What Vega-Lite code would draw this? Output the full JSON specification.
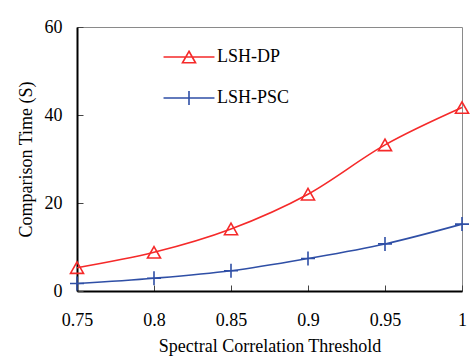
{
  "$schema": "https://vega.github.io/schema/vega-lite/v6.json",
  "width": 385,
  "height": 264,
  "autosize": {"type": "none"},
  "padding": {"left": 77, "top": 27, "right": 12, "bottom": 68},
  "background": "white",
  "config": {
    "font": "Liberation Serif",
    "view": {"stroke": "#8a8a8a", "strokeWidth": 1},
    "axis": {
      "grid": false,
      "domainColor": "black",
      "domainWidth": 2,
      "tickColor": "#444",
      "tickSize": -6,
      "labelFlush": false,
      "labelFont": "Liberation Serif",
      "labelFontSize": 18,
      "labelColor": "black",
      "titleFont": "Liberation Serif",
      "titleFontSize": 18,
      "titleFontWeight": "normal",
      "titleColor": "black"
    }
  },
  "data": {
    "values": [
      {"t": 0.75, "time": 5.3, "method": "LSH-DP"},
      {"t": 0.8, "time": 8.8, "method": "LSH-DP"},
      {"t": 0.85, "time": 14.1, "method": "LSH-DP"},
      {"t": 0.9, "time": 22.0, "method": "LSH-DP"},
      {"t": 0.95, "time": 33.2, "method": "LSH-DP"},
      {"t": 1.0, "time": 41.7, "method": "LSH-DP"},
      {"t": 0.75, "time": 1.7, "method": "LSH-PSC"},
      {"t": 0.8, "time": 2.9, "method": "LSH-PSC"},
      {"t": 0.85, "time": 4.6, "method": "LSH-PSC"},
      {"t": 0.9, "time": 7.4, "method": "LSH-PSC"},
      {"t": 0.95, "time": 10.7, "method": "LSH-PSC"},
      {"t": 1.0, "time": 15.2, "method": "LSH-PSC"}
    ]
  },
  "encoding": {
    "x": {
      "field": "t",
      "type": "quantitative",
      "scale": {"domain": [0.75, 1], "nice": false, "zero": false},
      "axis": {
        "values": [0.75, 0.8, 0.85, 0.9, 0.95, 1],
        "format": "~g",
        "labelPadding": 26,
        "title": "Spectral Correlation Threshold",
        "titlePadding": 8
      }
    },
    "y": {
      "field": "time",
      "type": "quantitative",
      "scale": {"domain": [0, 60], "nice": false},
      "axis": {
        "values": [0, 20, 40, 60],
        "labelPadding": 21,
        "title": "Comparison Time (S)",
        "titlePadding": 9
      }
    }
  },
  "layer": [
    {
      "mark": {"type": "line", "interpolate": "monotone", "strokeWidth": 1.6, "clip": false},
      "encoding": {
        "color": {
          "field": "method",
          "type": "nominal",
          "scale": {"domain": ["LSH-DP", "LSH-PSC"], "range": ["#f52a2a", "#2f4fa6"]},
          "legend": {
            "title": null,
            "orient": "none",
            "legendX": 103,
            "legendY": 21,
            "padding": 0,
            "symbolSize": 196,
            "symbolStrokeWidth": 1.6,
            "labelOffset": 19,
            "labelFont": "Liberation Serif",
            "labelFontSize": 18,
            "labelColor": "black",
            "rowPadding": 21,
            "encode": {
              "symbols": {
                "update": {
                  "shape": {"signal": "datum.value === 'LSH-DP' ? 'M-3.64,0H3.64M0,-0.82L0.93,0.82L-0.93,0.82Z' : 'M-3.64,0H3.64M0,-1V1'"},
                  "fill": {"value": "transparent"}
                }
              }
            }
          }
        }
      }
    },
    {
      "transform": [{"filter": "datum.method === 'LSH-DP'"}],
      "mark": {"type": "point", "filled": false, "color": "#f52a2a", "strokeWidth": 1.6, "size": 196, "clip": false, "opacity": 1, "shape": "M0,-0.82L0.93,0.82L-0.93,0.82Z"},
      "encoding": {}
    },
    {
      "transform": [{"filter": "datum.method === 'LSH-PSC'"}],
      "mark": {"type": "point", "filled": false, "color": "#2f4fa6", "strokeWidth": 1.6, "size": 196, "clip": false, "opacity": 1, "shape": "M-1,0H1M0,-1V1"},
      "encoding": {}
    }
  ]
}
